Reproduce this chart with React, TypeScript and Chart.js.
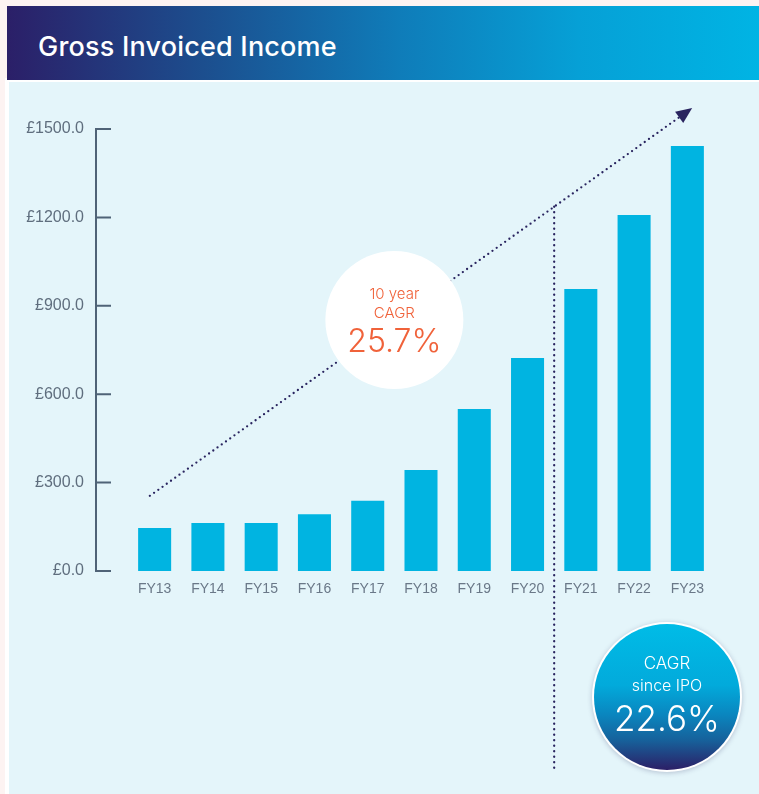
import React, { useEffect, useRef } from 'react';
import { Chart, registerables } from 'chart.js';

Chart.register(...registerables);

const title = 'Gross Invoiced Income';
const categories = ['FY13', 'FY14', 'FY15', 'FY16', 'FY17', 'FY18', 'FY19', 'FY20', 'FY21', 'FY22', 'FY23'];
const grossInvoicedIncome = [146, 163, 163, 193, 238, 343, 550, 723, 957, 1208, 1442];
const yTickValues = [0, 300, 600, 900, 1200, 1500];
const tenYearLines = ['10 year', 'CAGR'];
const tenYearValue = '25.7%';
const ipoLines = ['CAGR', 'since IPO'];
const ipoValue = '22.6%';
// trend arrow anchors: [category index, value]
const trendStart = [-0.09, 255];
const trendEnd = [10.09, 1571];
const ipoDividerIndex = 7.5;
const tenYearCircleIndex = 4.5;

const decorPlugin = {
  id: 'decor',
  afterDatasetsDraw(chart: any) {
    const { ctx, chartArea, scales } = chart;
    const x = scales.x;
    const y = scales.y;
    ctx.save();

    // y axis line + inner tick marks
    const axisX = chartArea.left - 32;
    ctx.strokeStyle = '#4f6377';
    ctx.lineWidth = 2;
    ctx.lineCap = 'butt';
    ctx.beginPath();
    ctx.moveTo(axisX, y.getPixelForValue(yTickValues[yTickValues.length - 1]) - 1);
    ctx.lineTo(axisX, y.getPixelForValue(0) + 1);
    yTickValues.forEach((v) => {
      const py = y.getPixelForValue(v);
      ctx.moveTo(axisX - 1, py);
      ctx.lineTo(axisX + 15, py);
    });
    ctx.stroke();

    // trend arrow
    const x0 = x.getPixelForValue(trendStart[0]);
    const y0 = y.getPixelForValue(trendStart[1]);
    const x1 = x.getPixelForValue(trendEnd[0]);
    const y1 = y.getPixelForValue(trendEnd[1]);
    const dx = x1 - x0;
    const dy = y1 - y0;
    const len = Math.hypot(dx, dy);
    const ux = dx / len;
    const uy = dy / len;
    const headLen = 16;
    const headW = 7;
    const bx = x1 - ux * headLen;
    const by = y1 - uy * headLen;
    const navy = '#29245f';

    ctx.strokeStyle = navy;
    ctx.lineWidth = 2.3;
    ctx.lineCap = 'round';
    ctx.setLineDash([0, 5.2]);
    ctx.beginPath();
    ctx.moveTo(x0, y0);
    ctx.lineTo(bx, by);
    ctx.stroke();

    // IPO divider
    const dX = x.getPixelForValue(ipoDividerIndex);
    const dY = y0 + ((dX - x0) / dx) * dy;
    ctx.setLineDash([0, 5.5]);
    ctx.beginPath();
    ctx.moveTo(dX, dY);
    ctx.lineTo(dX, chartArea.bottom + 200);
    ctx.stroke();
    ctx.setLineDash([]);

    // arrow head
    ctx.fillStyle = navy;
    ctx.beginPath();
    ctx.moveTo(x1, y1);
    ctx.lineTo(bx - uy * headW, by + ux * headW);
    ctx.lineTo(bx + uy * headW, by - ux * headW);
    ctx.closePath();
    ctx.fill();

    // ten year circle
    const c1x = x.getPixelForValue(tenYearCircleIndex);
    const c1y = y0 + ((c1x - x0) / dx) * dy - 1;
    ctx.fillStyle = '#ffffff';
    ctx.beginPath();
    ctx.arc(c1x, c1y, 69, 0, Math.PI * 2);
    ctx.fill();
    ctx.fillStyle = '#f0623a';
    ctx.textAlign = 'center';
    ctx.textBaseline = 'alphabetic';
    ctx.font = '300 15px Inter, "Noto Sans", sans-serif';
    ctx.fillText(tenYearLines[0], c1x, c1y - 21);
    ctx.fillText(tenYearLines[1], c1x, c1y - 2);
    ctx.font = '300 32px Inter, "Noto Sans", sans-serif';
    ctx.fillText(tenYearValue, c1x, c1y + 32);

    // IPO circle
    const c2x = chartArea.right - 47;
    const c2y = chartArea.bottom + 126;
    const r2 = 73;
    ctx.save();
    ctx.shadowColor = 'rgba(40,40,90,0.25)';
    ctx.shadowBlur = 5;
    ctx.shadowOffsetY = 1;
    ctx.fillStyle = '#ffffff';
    ctx.beginPath();
    ctx.arc(c2x, c2y, r2 + 2, 0, Math.PI * 2);
    ctx.fill();
    ctx.restore();
    const g = ctx.createLinearGradient(0, c2y - r2, 0, c2y + r2);
    g.addColorStop(0, '#00bce7');
    g.addColorStop(0.42, '#02aadb');
    g.addColorStop(0.62, '#0a86bf');
    g.addColorStop(0.8, '#17609a');
    g.addColorStop(1, '#2c1f66');
    ctx.fillStyle = g;
    ctx.beginPath();
    ctx.arc(c2x, c2y, r2, 0, Math.PI * 2);
    ctx.fill();
    ctx.fillStyle = '#ffffff';
    ctx.font = '300 17px Inter, "Noto Sans", sans-serif';
    ctx.fillText(ipoLines[0], c2x, c2y - 28);
    ctx.font = '300 16px Inter, "Noto Sans", sans-serif';
    ctx.fillText(ipoLines[1], c2x, c2y - 6);
    ctx.font = '300 35px Inter, "Noto Sans", sans-serif';
    ctx.fillText(ipoValue, c2x, c2y + 34);

    ctx.restore();
  },
};

export default function App() {
  const canvasRef = useRef<HTMLCanvasElement | null>(null);

  useEffect(() => {
    if (!canvasRef.current) return;
    const chart = new Chart(canvasRef.current, {
      type: 'bar',
      data: {
        labels: categories,
        datasets: [
          {
            data: grossInvoicedIncome,
            backgroundColor: '#00b4e1',
            borderWidth: 0,
            barPercentage: 0.62,
            categoryPercentage: 1,
          },
        ],
      },
      options: {
        responsive: false,
        maintainAspectRatio: false,
        animation: false,
        devicePixelRatio: 1,
        layout: { padding: { left: 0, right: 45, top: 129, bottom: 183 } },
        plugins: { legend: { display: false }, tooltip: { enabled: false } },
        scales: {
          x: {
            grid: { display: false, drawTicks: false },
            border: { display: false },
            ticks: {
              color: '#6a7888',
              font: { family: '"Liberation Sans", Arial, sans-serif', size: 14 },
              padding: 10,
              maxRotation: 0,
              autoSkip: false,
            },
            afterFit: (s: any) => {
              s.height = 40;
            },
          },
          y: {
            min: 0,
            max: 1500,
            afterBuildTicks: (s: any) => {
              s.ticks = yTickValues.map((v) => ({ value: v }));
            },
            grid: { display: false, drawTicks: false },
            border: { display: false },
            ticks: {
              color: '#5f6e7e',
              font: { family: '"Liberation Sans", Arial, sans-serif', size: 16 },
              padding: 44,
              callback: (v: any) => '£' + Number(v).toFixed(1),
            },
            afterFit: (s: any) => {
              s.width = 128;
            },
          },
        },
      },
      plugins: [decorPlugin],
    });
    return () => chart.destroy();
  }, []);

  return (
    <div style={{ position: 'fixed', left: 0, top: 0, width: 759, height: 794, background: '#fdf3f2', overflow: 'hidden' }}>
      <div style={{ position: 'absolute', left: 5, top: 78, right: 0, bottom: 0, background: '#ffffff' }} />
      <div
        style={{
          position: 'absolute',
          left: 7,
          top: 6,
          right: 0,
          height: 74,
          background: 'linear-gradient(90deg, #2b1f68 0%, #1c4e8e 26%, #0f7cb9 52%, #06a0d6 76%, #00b4e4 100%)',
        }}
      >
        <div
          style={{
            position: 'absolute',
            left: 31,
            top: 27,
            color: '#ffffff',
            font: '500 27px Inter, "Noto Sans", sans-serif',
            lineHeight: '27px',
            letterSpacing: '0.2px',
            whiteSpace: 'nowrap',
          }}
        >
          {title}
        </div>
      </div>
      <div style={{ position: 'absolute', left: 9, top: 82, right: 0, bottom: 0, background: '#e4f5fa' }} />
      <canvas
        ref={canvasRef}
        width={759}
        height={794}
        style={{ position: 'absolute', left: 0, top: 0, width: 759, height: 794, display: 'block' }}
      />
    </div>
  );
}
